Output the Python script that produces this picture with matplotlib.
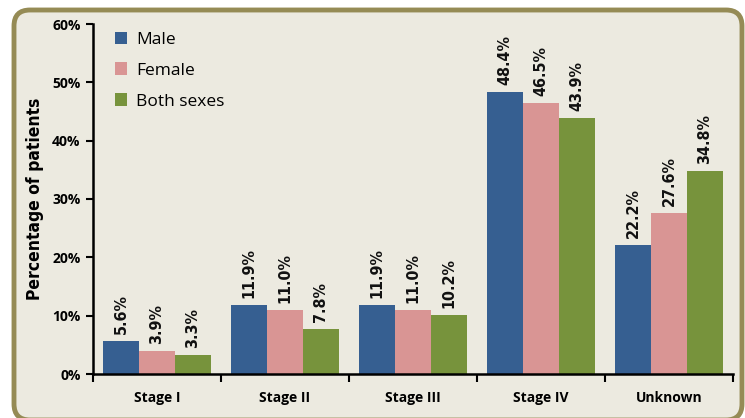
import matplotlib.pyplot as plt
import numpy as np
from matplotlib.patches import FancyBboxPatch
from matplotlib import font_manager

# Data
stages = ['Stage I', 'Stage II', 'Stage III', 'Stage IV', 'Unknown']
male = [5.6, 11.9, 11.9, 48.4, 22.2]
female = [3.9, 11.0, 11.0, 46.5, 27.6]
both = [3.3, 7.8, 10.2, 43.9, 34.8]
series_names = ['Male', 'Female', 'Both sexes']
colors = ['#365F91', '#D99594', '#77933C']

bg = '#ECEAE0'
sans = ['Open Sans', 'DejaVu Sans']

# condensed bold font for the data labels / y label
narrow = font_manager.FontProperties(family='DejaVu Sans', stretch='condensed', weight='bold')

fig = plt.figure(figsize=(7.45, 4.18), dpi=100)
fig.patch.set_facecolor('white')

# background axes holding the rounded frame
bax = fig.add_axes([0, 0, 1, 1], zorder=-1)
bax.set_xlim(0, 745)
bax.set_ylim(418, 0)
bax.axis('off')
bax.add_patch(FancyBboxPatch((14, 10), 728, 410, boxstyle='round,pad=0,rounding_size=16',
                             facecolor=bg, edgecolor='#958B55', linewidth=3.5))

ax = fig.add_axes([93 / 745, 44 / 418, 640 / 745, 350 / 418])
ax.patch.set_alpha(0)

x = np.arange(len(stages))
w = 0.28
for i, (vals, name, c) in enumerate(zip([male, female, both], series_names, colors)):
    pos = x + (i - 1) * w
    ax.bar(pos, vals, width=w, color=c, label=name, zorder=2)
    for px, v in zip(pos, vals):
        ax.annotate(f'{v:.1f}%', (px, v), xytext=(0, 5), textcoords='offset points',
                    rotation=90, ha='center', va='bottom', fontproperties=narrow,
                    fontsize=11.5, color='#111111')

ax.set_xlim(-0.5, len(stages) - 0.5)
ax.set_ylim(0, 60)
ax.set_yticks(range(0, 61, 10))
ax.set_yticklabels([f'{t}%' for t in range(0, 61, 10)], fontsize=10, fontweight='bold', family=sans)
ax.set_xticks(x)
ax.set_xticklabels(stages, fontsize=10, fontweight='bold', family=sans)
ax.tick_params(axis='x', length=0, pad=12)
ax.set_xticks(np.arange(-0.5, len(stages)), minor=True)
ax.tick_params(axis='x', which='minor', length=6, width=1.5, direction='out')
ax.tick_params(axis='y', length=5, width=1.5, direction='out', pad=4)

for s in ['top', 'right']:
    ax.spines[s].set_visible(False)
for s in ['left', 'bottom']:
    ax.spines[s].set_linewidth(1.8)

ax.set_ylabel('Percentage of patients', fontproperties=narrow, fontsize=12.5, labelpad=6)

ax.legend(loc='upper left', bbox_to_anchor=(0.01, 1.023), frameon=False,
          prop={'family': sans, 'size': 12.5},
          handlelength=0.7, handleheight=0.7, labelspacing=0.85, handletextpad=0.5)

fig.savefig('out.png', dpi=100, facecolor=fig.get_facecolor())
